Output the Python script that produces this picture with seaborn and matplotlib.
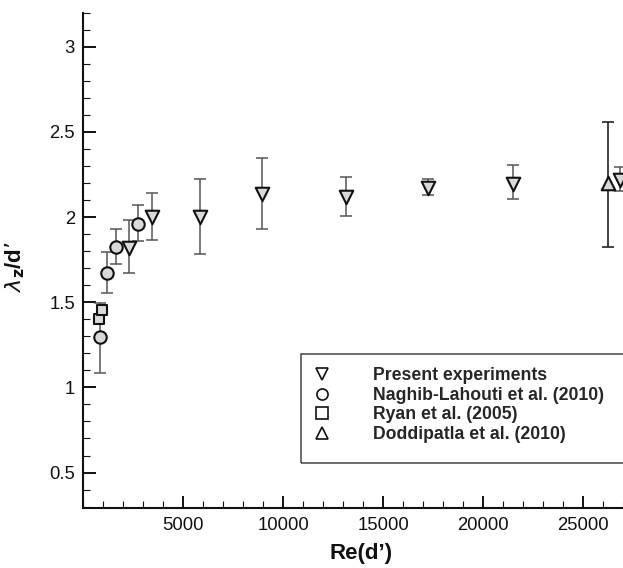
import numpy as np
import pandas as pd
import matplotlib
matplotlib.use("Agg")
import matplotlib.pyplot as plt
from matplotlib.lines import Line2D
from matplotlib.patches import Rectangle
from matplotlib.ticker import MultipleLocator, FuncFormatter
import seaborn as sns

# Present experiments
present_re = [2300, 3417, 5835, 8917, 13135, 17250, 21500, 26835]
present_lam = [1.821, 2.003, 2.000, 2.137, 2.115, 2.170, 2.196, 2.215]
present_lo = [1.671, 1.866, 1.782, 1.931, 2.004, 2.129, 2.104, 2.151]
present_hi = [1.980, 2.141, 2.221, 2.345, 2.233, 2.221, 2.304, 2.292]

# Naghib-Lahouti et al. (2010)
naghib_re = [835, 1200, 1635, 2717]
naghib_lam = [1.294, 1.671, 1.827, 1.961]
naghib_lo = [1.086, 1.553, 1.725, 1.857]
naghib_hi = [1.498, 1.792, 1.931, 2.068]

# Ryan et al. (2005)
ryan_re = [785, 918]
ryan_lam = [1.400, 1.453]

# Doddipatla et al. (2010)
dodd_re = [26250]
dodd_lam = [2.200]
dodd_lo = [1.825]
dodd_hi = [2.560]

legend_labels = ["Present experiments", "Naghib-Lahouti et al. (2010)",
                 "Ryan et al. (2005)", "Doddipatla et al. (2010)"]
x_ticks = [5000, 10000, 15000, 20000, 25000]
y_ticks = [0.5, 1.0, 1.5, 2.0, 2.5, 3.0]

sns.set_theme(style="white")
plt.rcParams["font.family"] = ["Liberation Sans", "DejaVu Sans"]
plt.rcParams["mathtext.fontset"] = "dejavusans"

W, H = 623, 568
fig = plt.figure(figsize=(W / 100, H / 100), dpi=100)
L, B, T = 83.3, 508.3, 12.7
ax = fig.add_axes([L / W, (H - B) / H, 1 - L / W, (B - T) / H])

FILL = "#d9d9d9"
EDGE = "#111111"


def bars(x, y, lo, hi, color):
    y = np.asarray(y)
    err = [y - np.asarray(lo), np.asarray(hi) - y]
    ax.errorbar(x, y, yerr=err, fmt="none", ecolor=color, elinewidth=1.1,
                capsize=4, capthick=1.1, zorder=2)


bars(present_re, present_lam, present_lo, present_hi, "#555555")
bars(naghib_re, naghib_lam, naghib_lo, naghib_hi, "#555555")
bars(dodd_re, dodd_lam, dodd_lo, dodd_hi, "#111111")

series = [
    (present_re, present_lam, "v", 95),
    (naghib_re, naghib_lam, "o", 80),
    (ryan_re, ryan_lam, "s", 60),
    (dodd_re, dodd_lam, "^", 95),
]
for xs, ys, mk, sz in series:
    df = pd.DataFrame({"Re": xs, "lam": ys})
    sns.scatterplot(data=df, x="Re", y="lam", marker=mk, s=sz, color=FILL,
                    edgecolor=EDGE, linewidth=1.5, ax=ax, zorder=3,
                    legend=False, clip_on=False)

ax.set_xlim(0, 27000)
ax.set_ylim(0.29, 3.2)
ax.set_xticks(x_ticks)
ax.set_yticks(y_ticks)
ax.xaxis.set_minor_locator(MultipleLocator(1000))
ax.yaxis.set_minor_locator(MultipleLocator(0.1))
ax.yaxis.set_major_formatter(FuncFormatter(lambda v, p: f"{v:g}"))
ax.xaxis.set_major_formatter(FuncFormatter(lambda v, p: f"{v:.0f}"))

for side in ["top", "right"]:
    ax.spines[side].set_visible(False)
for side in ["left", "bottom"]:
    ax.spines[side].set_linewidth(1.5)
    ax.spines[side].set_color("#111111")

ax.tick_params(which="major", direction="in", length=9, width=1.4,
               color="#111111", labelsize=13.3, labelcolor="#111111", pad=6)
ax.tick_params(which="minor", direction="in", length=5, width=0.8,
               color="#111111")
ax.tick_params(axis="both", which="both", bottom=True, left=True)

ax.set_xlabel("Re(d’)", fontsize=16, fontweight="bold", color="#111111")
ax.xaxis.set_label_coords((361.5 - L) / (W - L), (B - 554) / (B - T))
ax.xaxis.label.set_va("center")
ax.set_ylabel(r"$\lambda_{\mathbf{z}}$/d’", fontsize=16, fontweight="bold",
              color="#111111")
ax.yaxis.set_label_coords((15 - L) / (W - L), (B - 267) / (B - T))
ax.yaxis.label.set_va("center")

# legend frame, running past the right edge
fig.patches.append(Rectangle((300.7 / W, (H - 463.3) / H), 1.0, 109 / H,
                             transform=fig.transFigure, fill=False,
                             edgecolor="#444444", linewidth=1.1,
                             clip_on=False))

handles = [Line2D([], [], ls="none", marker=m, markersize=8,
                  markerfacecolor="white", markeredgecolor=EDGE,
                  markeredgewidth=1.2) for m in ["v", "o", "s", "^"]]
fs = 12.7
px = fs * 100 / 72
marker_x = 322
left = marker_x - 0.5 * px
ax.legend(handles, legend_labels, loc="center left",
          bbox_to_anchor=(left / W, (H - 405) / H),
          bbox_transform=fig.transFigure, frameon=False,
          prop={"size": fs, "weight": "bold"}, handlelength=1.0,
          handletextpad=(373 - left - px) / px, labelspacing=0.14,
          borderpad=0, borderaxespad=0)

fig.savefig("out.png", dpi=100)
